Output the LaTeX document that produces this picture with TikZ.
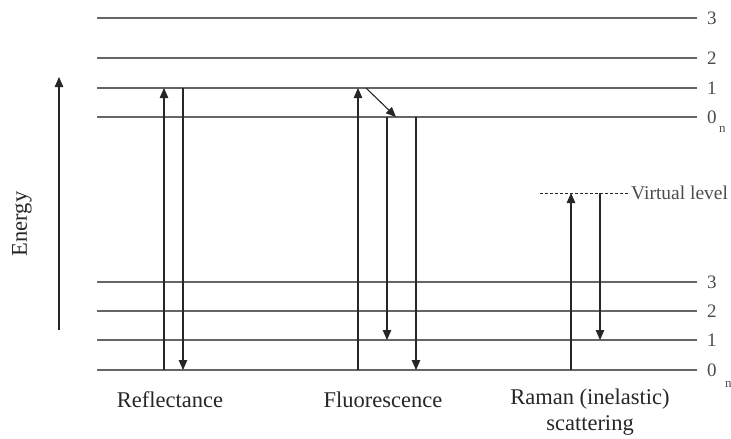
\documentclass[tikz,border=0pt]{standalone}
\usepackage{fontspec}
\setmainfont{Liberation Serif}
\usetikzlibrary{arrows.meta}

\begin{document}
\begin{tikzpicture}[x=1pt,y=-1pt,
  level/.style={draw=black!60, line width=1.2pt},
  trans/.style={draw=black!85, line width=1.1pt, -{Triangle[length=10pt,width=8.5pt]}},
  plain/.style={draw=black!85, line width=1pt},
  lvlnum/.style={font=\fontsize{19}{19}\selectfont, text=black!70, anchor=west, inner sep=0pt},
  caption/.style={font=\fontsize{22.5}{26}\selectfont, text=black!85, align=center}]
\useasboundingbox (0,0) rectangle (731,439);

% energy levels
\foreach \y/\n in {18/3, 58/2, 88/1, 117/0}{
  \coordinate (u\n l) at (97,\y);
  \coordinate (u\n r) at (697,\y);
  \draw[level] (u\n l) -- (u\n r);
  \node[lvlnum] (un\n) at (707,\y) {\n};
}
\foreach \y/\n in {282/3, 311/2, 340/1, 370/0}{
  \coordinate (d\n l) at (97,\y);
  \coordinate (d\n r) at (697,\y);
  \draw[level] (d\n l) -- (d\n r);
  \node[lvlnum] (dn\n) at (707,\y) {\n};
}
\node[lvlnum, font=\fontsize{13}{13}\selectfont] (usub) at (719,129) {n};
\node[lvlnum, font=\fontsize{13}{13}\selectfont] (dsub) at (725,384) {n};

% energy axis
\coordinate (E0) at (59,330);
\coordinate (E1) at (59,77);
\draw[trans] (E0) -- (E1);
\node[caption, rotate=90] (energy) at (22,224) {Energy};

% reflectance
\coordinate (R0) at (164,370);
\coordinate (R1) at (164,88);
\coordinate (R2) at (183,88);
\coordinate (R3) at (183,370);
\draw[trans] (R0) -- (R1);
\draw[trans] (R2) -- (R3);
\node[caption] (refl) at (170,400) {Reflectance};

% fluorescence
\coordinate (F0) at (358,370);
\coordinate (F1) at (358,88);
\coordinate (F2) at (366,88);
\coordinate (F3) at (396,117);
\coordinate (F4) at (387,117);
\coordinate (F5) at (387,340);
\coordinate (F6) at (416,117);
\coordinate (F7) at (416,370);
\draw[trans] (F0) -- (F1);
\draw[trans] (F2) -- (F3);
\draw[trans] (F4) -- (F5);
\draw[trans] (F6) -- (F7);
\node[caption] (fluo) at (383,400) {Fluorescence};

% raman
\coordinate (V0) at (540,193);
\coordinate (V1) at (629,193);
\draw[plain, line width=0.8pt, dash pattern=on 3pt off 2pt] (V0) -- (V1);
\node[lvlnum, font=\fontsize{19.5}{19.5}\selectfont] (virt) at (631,193) {Virtual level};
\coordinate (S0) at (571,370);
\coordinate (S1) at (571,193);
\coordinate (S2) at (600,193);
\coordinate (S3) at (600,340);
\draw[trans] (S0) -- (S1);
\draw[trans] (S2) -- (S3);
\node[caption] (raman) at (590,412) {Raman (inelastic)\\scattering};
\end{tikzpicture}
\end{document}
